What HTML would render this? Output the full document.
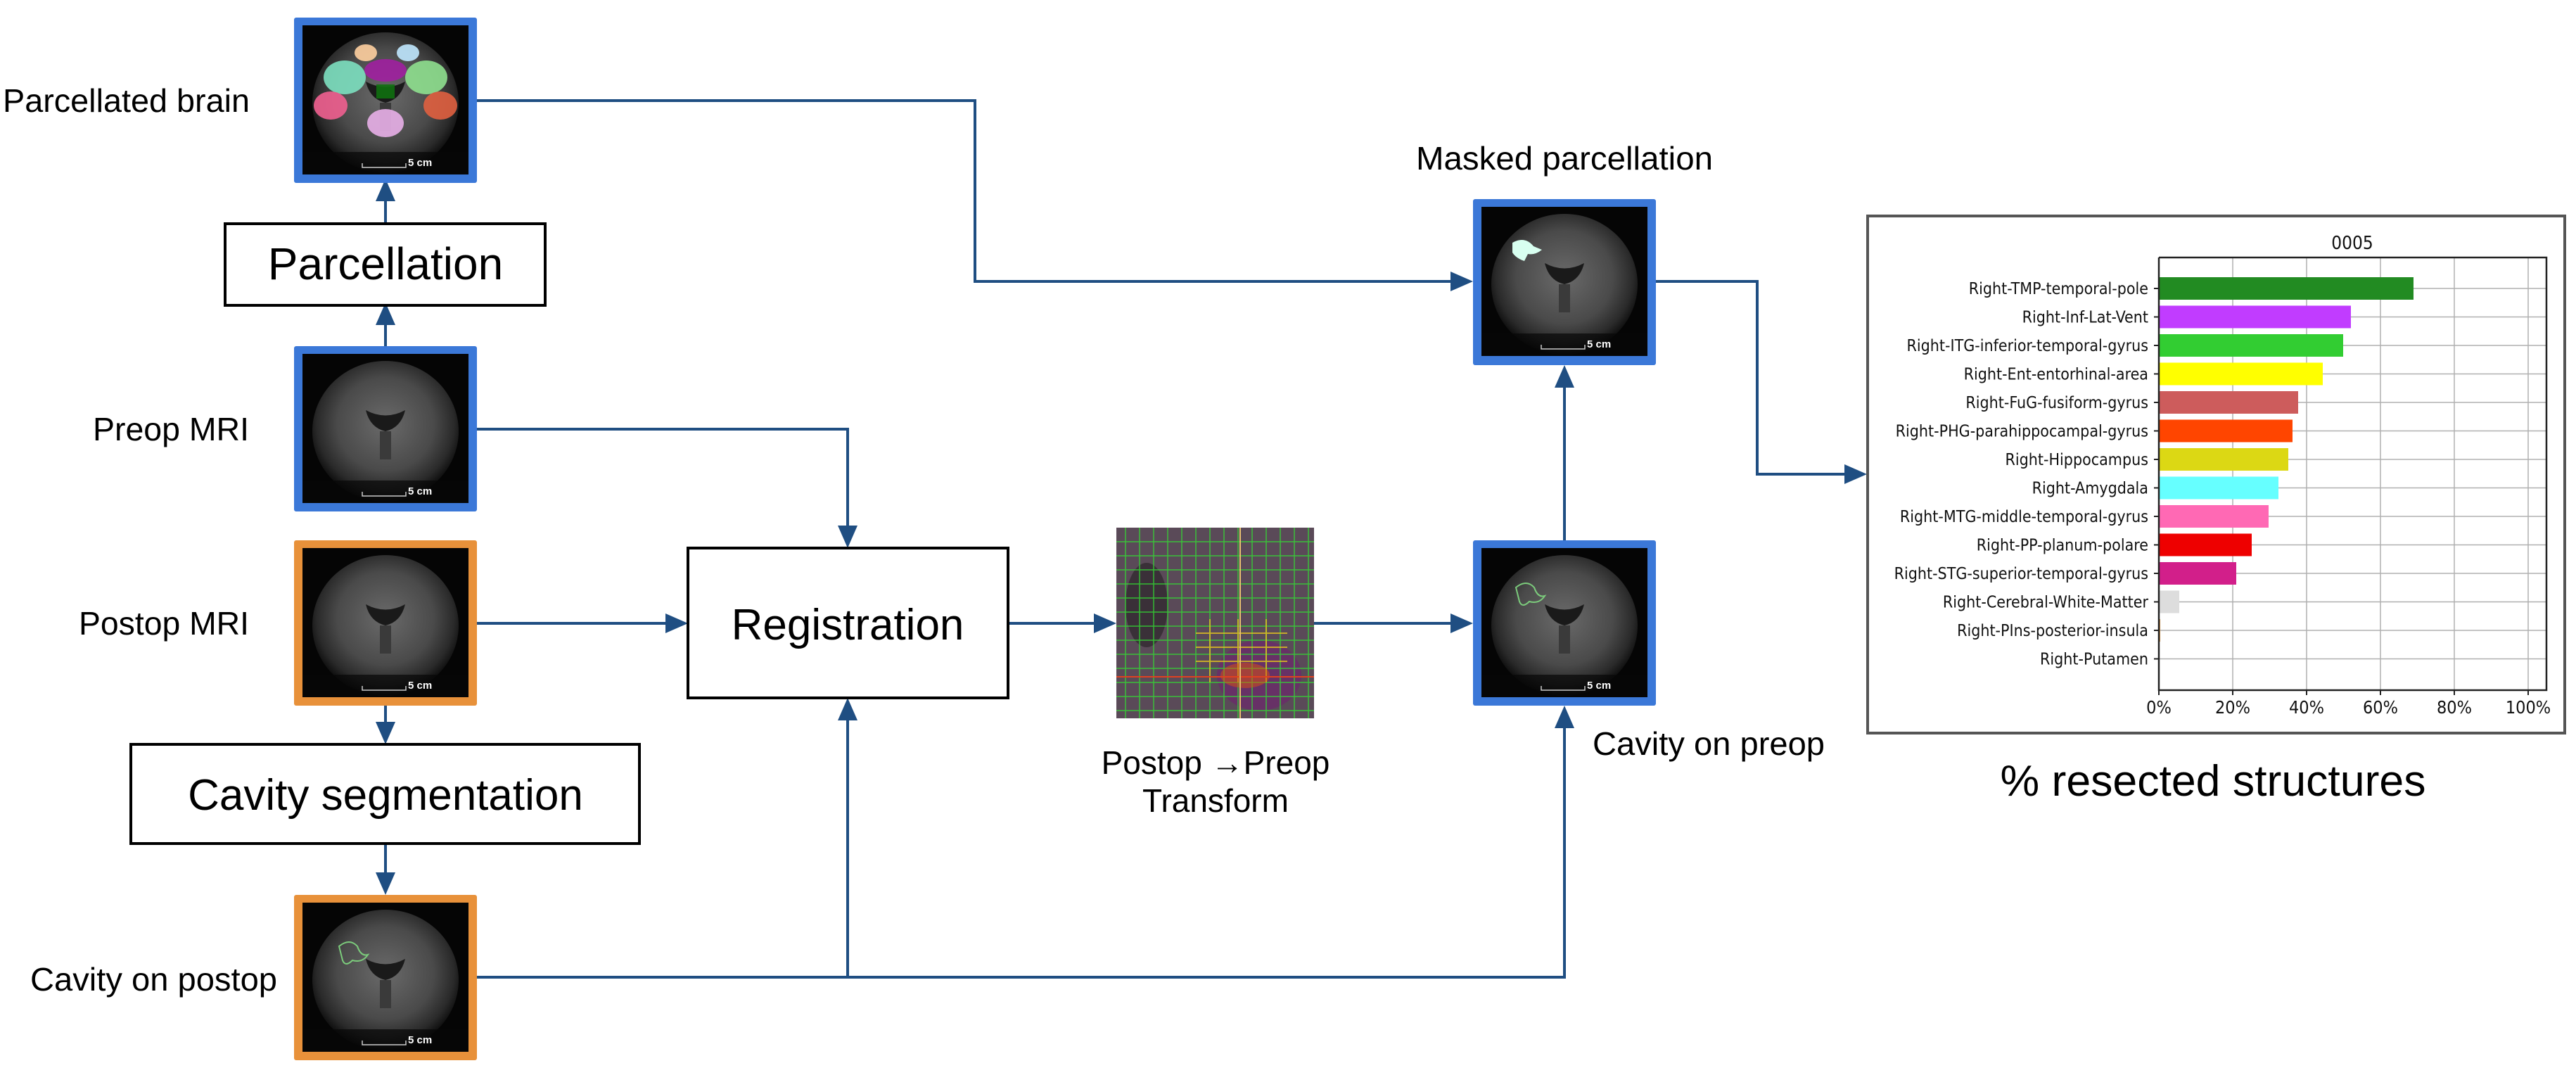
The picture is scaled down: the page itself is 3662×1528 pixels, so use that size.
<!DOCTYPE html>
<html><head><meta charset="utf-8"><style>
html,body{margin:0;padding:0;background:#fff;}
svg{display:block;}
.lbl{font-family:"Liberation Sans",sans-serif;fill:#000;}
.ch{font-family:"DejaVu Sans Condensed","DejaVu Sans",sans-serif;fill:#111;}
</style></head><body>
<svg width="3662" height="1528" viewBox="0 0 3662 1528" xmlns="http://www.w3.org/2000/svg">
<defs>
<radialGradient id="br" cx="50%" cy="45%" r="55%">
<stop offset="0" stop-color="#6a6a6a"/><stop offset="0.6" stop-color="#4a4a4a"/><stop offset="0.85" stop-color="#2a2a2a"/><stop offset="1" stop-color="#0a0a0a"/>
</radialGradient>
<g id="brain">
<rect x="0" y="0" width="236" height="212" fill="#050505"/>
<ellipse cx="118" cy="110" rx="104" ry="100" fill="url(#br)"/>
<path d="M90 80 Q118 95 146 80 Q140 105 118 110 Q96 105 90 80Z" fill="#1a1a1a"/>
<rect x="110" y="110" width="16" height="40" fill="#3a3a3a"/>
<rect x="0" y="180" width="236" height="32" fill="#070707" opacity="0.7"/>
<text x="150" y="200" font-family="Liberation Sans,sans-serif" font-size="15" font-weight="bold" fill="#fff">5 cm</text>
<path d="M85 196 v6 h62 v-6" stroke="#ccc" stroke-width="1.5" fill="none"/>
</g>
</defs>

<g stroke="#1f4e82" stroke-width="4" fill="none">
<path d="M548 318 V262"/>
<path d="M548 492 V438"/>
<path d="M548 1003 V1030"/>
<path d="M548 1199 V1245"/>
<path d="M678 143 H1386 V400 H2066"/>
<path d="M678 610 H1205 V752"/>
<path d="M678 886 H950"/>
<path d="M678 1389 H2224 V1030"/>
<path d="M1205 1389 V1020"/>
<path d="M1433 886 H1560"/>
<path d="M1868 886 H2066"/>
<path d="M2224 768 V546"/>
<path d="M2354 400 H2498 V674 H2626"/>
</g>
<g fill="#1f4e82">
<polygon points="548,254 534,286 562,286"/>
<polygon points="548,430 534,462 562,462"/>
<polygon points="548,1058 534,1026 562,1026"/>
<polygon points="548,1272 534,1240 562,1240"/>
<polygon points="1205,779 1191,747 1219,747"/>
<polygon points="1205,992 1191,1024 1219,1024"/>
<polygon points="978,886 946,872 946,900"/>
<polygon points="1587,886 1555,872 1555,900"/>
<polygon points="2094,886 2062,872 2062,900"/>
<polygon points="2094,400 2062,386 2062,414"/>
<polygon points="2224,519 2210,551 2238,551"/>
<polygon points="2224,1003 2210,1035 2238,1035"/>
<polygon points="2654,674 2622,660 2622,688"/>
</g>

<g>
<rect x="418" y="25" width="260" height="235" fill="#3b78d8" rx="3"/>
<use href="#brain" x="430" y="36"/>
<g opacity="0.9">
<ellipse cx="490" cy="110" rx="30" ry="24" fill="#7de0c0"/>
<ellipse cx="606" cy="110" rx="30" ry="24" fill="#8fe08f"/>
<ellipse cx="470" cy="150" rx="24" ry="20" fill="#f06090"/>
<ellipse cx="626" cy="150" rx="24" ry="20" fill="#e06040"/>
<ellipse cx="548" cy="100" rx="30" ry="16" fill="#a020a0"/>
<rect x="535" y="120" width="26" height="20" fill="#107010"/>
<ellipse cx="548" cy="175" rx="26" ry="20" fill="#e8b0e8"/>
<ellipse cx="520" cy="75" rx="16" ry="12" fill="#ffd0a0"/>
<ellipse cx="580" cy="75" rx="16" ry="12" fill="#c0e8ff"/>
</g>
<rect x="418" y="492" width="260" height="235" fill="#3b78d8" rx="3"/>
<use href="#brain" x="430" y="503"/>
<rect x="418" y="768" width="260" height="235" fill="#e8913a" rx="3"/>
<use href="#brain" x="430" y="779"/>
<rect x="418" y="1272" width="260" height="235" fill="#e8913a" rx="3"/>
<use href="#brain" x="430" y="1283"/>
<path d="M482 1345 q15 -12 26 0 q5 15 15 12 q-8 12 -22 8 q-10 10 -14 0 z" stroke="#7ccc7c" stroke-width="2" fill="none"/>
<rect x="2094" y="283" width="260" height="236" fill="#3b78d8" rx="3"/>
<use href="#brain" x="2106" y="294"/>
<path d="M2150 345 q18 -10 30 5 l12 5 q-10 8 -20 6 l-5 10 q-12 -4 -17 -12 z" fill="#d8fff0"/>
<rect x="2094" y="768" width="260" height="235" fill="#3b78d8" rx="3"/>
<use href="#brain" x="2106" y="779"/>
<path d="M2155 835 q15 -12 26 0 q5 15 15 12 q-8 12 -22 8 q-10 10 -14 0 z" stroke="#7ccc7c" stroke-width="2" fill="none"/>
</g>

<g>
<rect x="1587" y="750" width="281" height="271" fill="#5a4a58"/>
<ellipse cx="1630" cy="860" rx="30" ry="60" fill="#3a3038"/>
<ellipse cx="1790" cy="960" rx="60" ry="50" fill="#6a2a6a" opacity="0.8"/>
<g stroke="#33dd33" stroke-width="1.5" opacity="0.8">
<path d="M1587 770H1868M1587 790H1868M1587 810H1868M1587 830H1868M1587 850H1868M1587 870H1868M1587 890H1868M1587 910H1868M1587 930H1868M1587 950H1868M1587 970H1868M1587 990H1868M1587 1010H1868"/>
<path d="M1600 750V1021M1620 750V1021M1640 750V1021M1660 750V1021M1680 750V1021M1700 750V1021M1720 750V1021M1740 750V1021M1760 750V1021M1780 750V1021M1800 750V1021M1820 750V1021M1840 750V1021M1860 750V1021"/>
</g>
<g stroke="#e0c020" stroke-width="2" opacity="0.8">
<path d="M1700 900H1830M1700 920H1830M1700 940H1830M1720 880V970M1760 880V970M1800 880V970"/>
</g>
<ellipse cx="1770" cy="960" rx="35" ry="18" fill="#e05010" opacity="0.5"/>
<path d="M1587 962H1868" stroke="#e04020" stroke-width="2"/>
<path d="M1763 750V1021" stroke="#e8c070" stroke-width="2"/>
</g>

<g fill="#fff" stroke="#000" stroke-width="4">
<rect x="320" y="318" width="455" height="116"/>
<rect x="186" y="1058" width="723" height="141"/>
<rect x="978" y="779" width="455" height="213"/>
</g>
<g class="lbl" text-anchor="middle">
<text x="548" y="397" font-size="64">Parcellation</text>
<text x="548" y="1151" font-size="62">Cavity segmentation</text>
<text x="1205" y="909" font-size="62">Registration</text>
</g>
<g class="lbl" font-size="46">
<text x="355" y="159" text-anchor="end" textLength="351" lengthAdjust="spacingAndGlyphs">Parcellated brain</text>
<text x="354" y="626" text-anchor="end" textLength="222" lengthAdjust="spacingAndGlyphs">Preop MRI</text>
<text x="354" y="902" text-anchor="end" textLength="242" lengthAdjust="spacingAndGlyphs">Postop MRI</text>
<text x="394" y="1408" text-anchor="end" textLength="351" lengthAdjust="spacingAndGlyphs">Cavity on postop</text>
<text x="2013" y="241" textLength="422" lengthAdjust="spacingAndGlyphs">Masked parcellation</text>
<text x="2264" y="1073" textLength="330" lengthAdjust="spacingAndGlyphs">Cavity on preop</text>
<text x="1728" y="1100" text-anchor="middle">Postop →Preop</text>
<text x="1728" y="1154" text-anchor="middle">Transform</text>
<text x="3146" y="1131" text-anchor="middle" font-size="62" textLength="605" lengthAdjust="spacingAndGlyphs">% resected structures</text>
</g>

<rect x="2655" y="307" width="991" height="735" fill="#fff" stroke="#555" stroke-width="4"/>
<text class="ch" x="3344" y="354" font-size="26" text-anchor="middle">0005</text>
<g stroke="#b0b0b0" stroke-width="1.5">
<path d="M3174 366V981M3279 366V981M3384 366V981M3489 366V981M3594 366V981"/>
<path d="M3069 410H3620M3069 450.5H3620M3069 491H3620M3069 531.5H3620M3069 572H3620M3069 612.5H3620M3069 653H3620M3069 693.5H3620M3069 734H3620M3069 774.5H3620M3069 815H3620M3069 855.5H3620M3069 896H3620M3069 936.5H3620"/>
</g>
<g>
<rect x="3069" y="394" width="362" height="32" fill="#228b22"/>
<rect x="3069" y="434.5" width="273" height="32" fill="#c13cff"/>
<rect x="3069" y="475" width="262" height="32" fill="#32cd32"/>
<rect x="3069" y="515.5" width="233" height="32" fill="#ffff00"/>
<rect x="3069" y="556" width="198" height="32" fill="#cd5c5c"/>
<rect x="3069" y="596.5" width="190" height="32" fill="#ff4500"/>
<rect x="3069" y="637" width="184" height="32" fill="#dcd814"/>
<rect x="3069" y="677.5" width="170" height="32" fill="#66ffff"/>
<rect x="3069" y="718" width="156" height="32" fill="#ff69b4"/>
<rect x="3069" y="758.5" width="132" height="32" fill="#ee0000"/>
<rect x="3069" y="799" width="110" height="32" fill="#d21f8a"/>
<rect x="3069" y="839.5" width="29" height="32" fill="#dddddd"/>
<rect x="3069" y="880" width="2" height="32" fill="#e0a050"/>
</g>
<path d="M3069 366V981H3620V366H3069" stroke="#222" stroke-width="2.5" fill="none"/>
<g stroke="#222" stroke-width="2">
<path d="M3062 410H3069M3062 450.5H3069M3062 491H3069M3062 531.5H3069M3062 572H3069M3062 612.5H3069M3062 653H3069M3062 693.5H3069M3062 734H3069M3062 774.5H3069M3062 815H3069M3062 855.5H3069M3062 896H3069M3062 936.5H3069"/>
<path d="M3069 981v7M3174 981v7M3279 981v7M3384 981v7M3489 981v7M3594 981v7"/>
</g>
<g class="ch" font-size="23" text-anchor="end">
<text x="3054" y="418">Right-TMP-temporal-pole</text>
<text x="3054" y="458.5">Right-Inf-Lat-Vent</text>
<text x="3054" y="499">Right-ITG-inferior-temporal-gyrus</text>
<text x="3054" y="539.5">Right-Ent-entorhinal-area</text>
<text x="3054" y="580">Right-FuG-fusiform-gyrus</text>
<text x="3054" y="620.5">Right-PHG-parahippocampal-gyrus</text>
<text x="3054" y="661">Right-Hippocampus</text>
<text x="3054" y="701.5">Right-Amygdala</text>
<text x="3054" y="742">Right-MTG-middle-temporal-gyrus</text>
<text x="3054" y="782.5">Right-PP-planum-polare</text>
<text x="3054" y="823">Right-STG-superior-temporal-gyrus</text>
<text x="3054" y="863.5">Right-Cerebral-White-Matter</text>
<text x="3054" y="904">Right-PIns-posterior-insula</text>
<text x="3054" y="944.5">Right-Putamen</text>
</g>
<g class="ch" font-size="25" text-anchor="middle">
<text x="3069" y="1014">0%</text>
<text x="3174" y="1014">20%</text>
<text x="3279" y="1014">40%</text>
<text x="3384" y="1014">60%</text>
<text x="3489" y="1014">80%</text>
<text x="3594" y="1014">100%</text>
</g>
</svg>
</body></html>
